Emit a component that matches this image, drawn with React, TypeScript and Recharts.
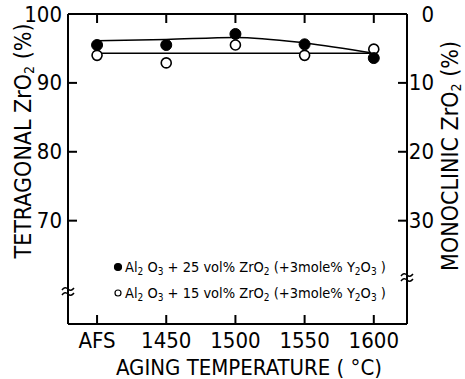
import React from 'react';
import { ComposedChart, Line, Scatter, XAxis, YAxis, Customized } from 'recharts';

const categories = ['AFS', '1450', '1500', '1550', '1600'];
const tetragonal25 = [95.5, 95.5, 97.1, 95.6, 93.6];
const tetragonal15 = [94.0, 92.9, 95.5, 94.0, 94.9];
const fit25 = [96.1, 96.3, 96.6, 95.8, 94.3];
const fit15 = [94.3, 94.3, 94.3, 94.3, 94.3];
const leftTicks = [70, 80, 90, 100];
const rightTicks = [0, 10, 20, 30];
const xTicks = [0, 1, 2, 3, 4];

const X_DOMAIN: [number, number] = [-0.42, 4.48];
const L_DOMAIN: [number, number] = [55, 100];
const R_DOMAIN: [number, number] = [0, 45];

const CHART_W = 465;
const CHART_H = 379;
const M_TOP = 13;
const TOP_AXIS_H = 1;
const BOTTOM_AXIS_H = 55;
const LEFT_AXIS_W = 68;
const RIGHT_AXIS_W = 58;
const P_LEFT = LEFT_AXIS_W;
const P_RIGHT = CHART_W - RIGHT_AXIS_W;
const P_TOP = M_TOP + TOP_AXIS_H;
const P_BOTTOM = CHART_H - BOTTOM_AXIS_H;

const FONT = '"Liberation Sans Narrow", "DejaVu Sans Condensed", "DejaVu Sans", sans-serif';

const data = categories.map((c, i) => ({
  x: i,
  t25: tetragonal25[i],
  t15: tetragonal15[i],
  m25: 100 - tetragonal25[i],
  f25: fit25[i],
  f15: fit15[i],
}));

const txt = { fontFamily: FONT, fontStretch: 'condensed', fill: '#000' } as any;

const GAP_L = 6;
const GAP_R = 27;
const GAP_B = 16;
const TL = 9;

const LeftTick = (p: any) => (
  <text x={p.x} y={p.y} textAnchor="end" dominantBaseline="central" fontSize={22} style={txt}>
    {p.payload.value}
  </text>
);
const RightTick = (p: any) => (
  <text x={p.x} y={p.y} textAnchor="end" dominantBaseline="central" fontSize={22} style={txt}>
    {p.payload.value}
  </text>
);
const BottomTick = (p: any) => (
  <text x={p.x} y={p.y} textAnchor="middle" dominantBaseline="central" fontSize={22} style={txt}>
    {categories[p.payload.value]}
  </text>
);

const FilledDot = (p: any) => <circle cx={p.cx} cy={p.cy} r={5.5} fill="#000" stroke="#000" />;
const OpenDot = (p: any) => <circle cx={p.cx} cy={p.cy} r={5} fill="#fff" stroke="#000" strokeWidth={1.6} />;

const Sub = ({ children }: any) => (
  <tspan fontSize={10} dy={3}>{children}</tspan>
);
const Up = ({ children }: any) => <tspan dy={-3}>{children}</tspan>;

const LegendRow = ({ y, filled, n }: { y: number; filled: boolean; n: string }) => (
  <g>
    <circle cx={118} cy={y} r={filled ? 3.5 : 3} fill={filled ? '#000' : '#fff'} stroke="#000" strokeWidth={1.2} />
    <text x={125} y={y + 5} fontSize={14.5} style={txt}>
      Al<Sub>2</Sub><Up> O</Up><Sub>3</Sub><Up>{` + ${n} vol% ZrO`}</Up><Sub>2</Sub><Up>{' (+3mole% Y'}</Up><Sub>2</Sub><Up>O</Up><Sub>3</Sub><Up> )</Up>
    </text>
  </g>
);

const xPix = (v: number) => P_LEFT + ((v - X_DOMAIN[0]) / (X_DOMAIN[1] - X_DOMAIN[0])) * (P_RIGHT - P_LEFT);
const lPix = (v: number) => P_BOTTOM - ((v - L_DOMAIN[0]) / (L_DOMAIN[1] - L_DOMAIN[0])) * (P_BOTTOM - P_TOP);
const rPix = (v: number) => P_TOP + ((v - R_DOMAIN[0]) / (R_DOMAIN[1] - R_DOMAIN[0])) * (P_BOTTOM - P_TOP);

const AxisTicks = () => (
  <g>
    {leftTicks.map((v) => (
      <rect key={'l' + v} x={P_LEFT} y={lPix(v) - 1} width={TL} height={2} fill="#000" />
    ))}
    {rightTicks.map((v) => (
      <rect key={'r' + v} x={P_RIGHT - TL} y={rPix(v) - 1} width={TL} height={2} fill="#000" />
    ))}
    {xTicks.map((v) => (
      <rect key={'b' + v} x={xPix(v) - 1} y={P_BOTTOM - TL} width={2} height={TL} fill="#000" />
    ))}
    {xTicks.map((v) => (
      <rect key={'t' + v} x={xPix(v) - 1} y={P_TOP} width={2} height={TL} fill="#000" />
    ))}
  </g>
);

const Decor = () => (
  <g>
    <AxisTicks />
    <LegendRow y={267} filled n="25" />
    <LegendRow y={293} filled={false} n="15" />
    <path d="M62,290 q3,-4 6,-1 t6,-1 M62,295 q3,-4 6,-1 t6,-1" stroke="#000" fill="none" strokeWidth={1.5} />
    <path d="M401,276 q3,-4 6,-1 t6,-1 M401,281 q3,-4 6,-1 t6,-1" stroke="#000" fill="none" strokeWidth={1.5} />
    <text transform="translate(31,141) rotate(-90)" textAnchor="middle" fontSize={23} style={txt}>
      TETRAGONAL  ZrO<tspan fontSize={14} dy={3}>2</tspan><tspan dy={-3}> (%)</tspan>
    </text>
    <text transform="translate(458,156) rotate(-90)" textAnchor="middle" fontSize={23} style={txt}>
      MONOCLINIC  ZrO<tspan fontSize={14} dy={3}>2</tspan><tspan dy={-3}> (%)</tspan>
    </text>
    <text x={249} y={375} textAnchor="middle" fontSize={22} style={txt}>
      AGING  TEMPERATURE ( °C)
    </text>
  </g>
);

export default function App() {
  return (
    <div style={{ position: 'absolute', left: 0, top: 0, background: '#fff' }}>
      <ComposedChart width={CHART_W} height={CHART_H} data={data} margin={{ top: M_TOP, right: 0, bottom: 0, left: 0 }}>
        <XAxis
          xAxisId="b"
          dataKey="x"
          type="number"
          domain={X_DOMAIN}
          ticks={xTicks}
          height={BOTTOM_AXIS_H}
          tickSize={0}
          tickMargin={GAP_B}
          tick={<BottomTick />}
          axisLine={{ stroke: '#000', strokeWidth: 2 }}
        />
        <XAxis
          xAxisId="t"
          orientation="top"
          dataKey="x"
          type="number"
          domain={X_DOMAIN}
          ticks={xTicks}
          height={TOP_AXIS_H}
          tickSize={0}
          tick={false}
          axisLine={{ stroke: '#000', strokeWidth: 2 }}
        />
        <YAxis
          yAxisId="l"
          type="number"
          domain={L_DOMAIN}
          ticks={leftTicks}
          width={LEFT_AXIS_W}
          tickSize={0}
          tickMargin={GAP_L}
          tick={<LeftTick />}
          axisLine={{ stroke: '#000', strokeWidth: 2 }}
          allowDataOverflow
        />
        <YAxis
          yAxisId="r"
          orientation="right"
          type="number"
          domain={R_DOMAIN}
          reversed
          ticks={rightTicks}
          width={RIGHT_AXIS_W}
          tickSize={0}
          tickMargin={GAP_R}
          tick={<RightTick />}
          axisLine={{ stroke: '#000', strokeWidth: 2 }}
          allowDataOverflow
        />
        <Line xAxisId="t" yAxisId="r" dataKey="m25" stroke="none" dot={false} activeDot={false} isAnimationActive={false} />
        <Line xAxisId="b" yAxisId="l" dataKey="f25" type="monotone" stroke="#000" strokeWidth={1.5} dot={false} isAnimationActive={false} />
        <Line xAxisId="b" yAxisId="l" dataKey="f15" type="linear" stroke="#000" strokeWidth={1.5} dot={false} isAnimationActive={false} />
        <Scatter xAxisId="b" yAxisId="l" dataKey="t15" shape={<OpenDot />} isAnimationActive={false} />
        <Scatter xAxisId="b" yAxisId="l" dataKey="t25" shape={<FilledDot />} isAnimationActive={false} />
        <Customized component={Decor} />
      </ComposedChart>
    </div>
  );
}
